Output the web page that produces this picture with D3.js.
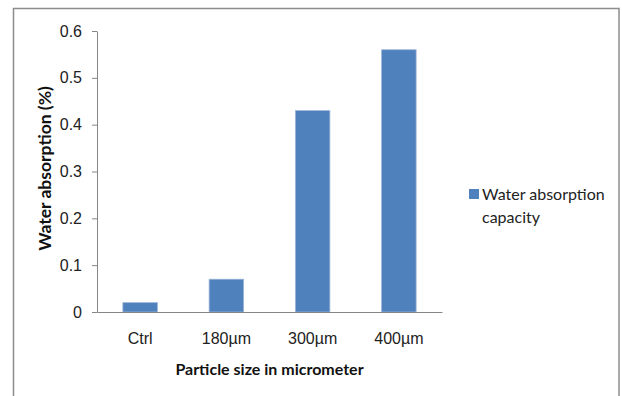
<!DOCTYPE html>
<html>
<head>
<meta charset="utf-8">
<script src="https://cdn.jsdelivr.net/npm/d3@7"></script>
<style>
  body { margin: 0; background: #fff; }
  svg { display: block; font-family: Lato, "Open Sans", sans-serif; }
</style>
</head>
<body>
<svg id="chart"></svg>
<script>
// chart data
const categories = ["Ctrl", "180\u00b5m", "300\u00b5m", "400\u00b5m"];
const absorption = [0.02, 0.07, 0.43, 0.56];
const yTicks = [0, 0.1, 0.2, 0.3, 0.4, 0.5, 0.6];
const seriesName = ["Water absorption", "capacity"];

const W = 622, H = 396;
const margin = { top: 31, right: 180, bottom: 84, left: 97 };
const width = W - margin.left - margin.right;
const height = H - margin.top - margin.bottom;

const svg = d3.select("#chart").attr("width", W).attr("height", H);

// outer frame (runs past the bottom edge like the original)
svg.append("rect")
  .attr("x", 13.5).attr("y", 8.5)
  .attr("width", 605.5).attr("height", 400)
  .attr("fill", "none")
  .attr("stroke", "#8c8c8c")
  .attr("stroke-width", 1.5);

const g = svg.append("g")
  .attr("transform", "translate(" + margin.left + "," + margin.top + ")");

const x = d3.scaleBand()
  .domain(categories)
  .range([0, width])
  .paddingInner(0.6)
  .paddingOuter(0.3);

const y = d3.scaleLinear()
  .domain([0, 0.6])
  .range([height, 0]);

// bars
g.selectAll("rect.bar")
  .data(absorption)
  .enter()
  .append("rect")
  .attr("class", "bar")
  .attr("x", (d, i) => x(categories[i]))
  .attr("y", d => y(d))
  .attr("width", x.bandwidth())
  .attr("height", d => height - y(d))
  .attr("fill", "#4f81bd")
  .attr("stroke", "#9db6d8")
  .attr("stroke-width", 0.8);

// y axis
const yAxis = g.append("g")
  .call(d3.axisLeft(y).tickValues(yTicks).tickSize(5).tickSizeOuter(0)
    .tickFormat(d => d === 0 ? "0" : d3.format(".1f")(d)));
yAxis.select(".domain").attr("stroke", "#868686");
yAxis.selectAll(".tick line").attr("stroke", "#868686");
yAxis.selectAll(".tick text")
  .attr("x", -15)
  .style("font-size", "16px")
  .attr("fill", "#222");

// x axis
const xAxis = g.append("g")
  .attr("transform", "translate(0," + height + ")")
  .call(d3.axisBottom(x).tickSize(0).tickSizeOuter(0));
xAxis.select(".domain").attr("stroke", "#868686");
xAxis.selectAll(".tick text")
  .attr("y", 21)
  .style("font-size", "16px")
  .attr("fill", "#222");

// axis titles
g.append("text")
  .attr("x", width / 2)
  .attr("y", height + 63)
  .attr("text-anchor", "middle")
  .style("font-size", "16px")
  .style("font-weight", "bold")
  .attr("fill", "#111")
  .text("Particle size in micrometer");

g.append("text")
  .attr("transform", "rotate(-90)")
  .attr("x", -height / 2 + 3)
  .attr("y", -46)
  .attr("text-anchor", "middle")
  .style("font-size", "17.5px")
  .style("font-weight", "bold")
  .attr("fill", "#111")
  .text("Water absorption (%)");

// legend
const legend = svg.append("g").attr("transform", "translate(469,189)");
legend.append("rect")
  .attr("width", 10).attr("height", 10)
  .attr("fill", "#4f81bd");
legend.selectAll("text")
  .data(seriesName)
  .enter()
  .append("text")
  .attr("x", 13)
  .attr("y", (d, i) => 11 + i * 23)
  .style("font-size", "16px")
  .attr("fill", "#222")
  .text(d => d);
</script>
</body>
</html>
